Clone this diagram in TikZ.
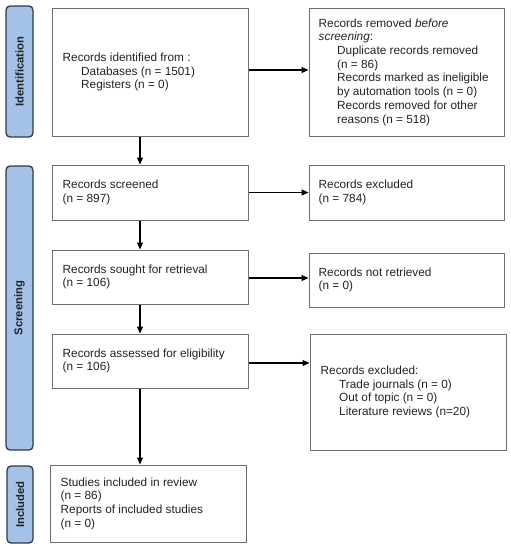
\documentclass[tikz,border=0pt]{standalone}
\usepackage{fontspec}
\setmainfont{Liberation Sans}
\usetikzlibrary{arrows.meta,calc}
\definecolor{sidefill}{HTML}{A4C2E8}
\definecolor{sideedge}{HTML}{2F3A4A}
\definecolor{boxedge}{HTML}{6E6E6E}
\definecolor{txtcol}{HTML}{222222}
\tikzset{
  box/.style={draw=boxedge, line width=1pt, rectangle, inner sep=0pt},
  txt/.style={anchor=west, align=left, inner sep=0pt, text=txtcol,
    font=\fontsize{11.8pt}{13.7pt}\selectfont},
  side/.style={draw=sideedge, fill=sidefill, line width=1.3pt, rounded corners=4pt, inner sep=0pt},
  sidetxt/.style={rotate=90, inner sep=0pt, text=txtcol, font=\fontsize{11.3pt}{13pt}\selectfont\bfseries},
  arr/.style={line width=1.1pt, -{Triangle[length=7pt,width=6pt]}},
}
\newcommand{\ind}{\hspace*{18.5pt}}
\begin{document}
\begin{tikzpicture}[x=1pt,y=1pt]
\useasboundingbox (0,0) rectangle (511,-550);
% side bars
\node[side, minimum width=27pt, minimum height=131pt] (sid) at (19.5,-71.5) {};
\node[sidetxt] (sidt) at (sid.center) {Identification};
\node[side, minimum width=27pt, minimum height=284pt] (ssc) at (19.5,-308) {};
\node[sidetxt] (ssct) at (ssc.center) {Screening};
\node[side, minimum width=26pt, minimum height=77pt] (sin) at (20,-504.5) {};
\node[sidetxt] (sint) at (sin.center) {Included};
% boxes
\node[box, minimum width=196pt, minimum height=128pt] (b1) at (150,-72) {};
\node[txt] (t1) at ([xshift=11pt]b1.west) {Records identified from :\\
\ind Databases (n = 1501)\\
\ind Registers (n = 0)};
\node[box, minimum width=195pt, minimum height=128pt] (r1) at (406.5,-72) {};
\node[txt] (tr1) at ([xshift=10pt]r1.west) {Records removed \textit{before}\\
\textit{screening}:\\
\ind Duplicate records removed\\
\ind (n = 86)\\
\ind Records marked as ineligible\\
\ind by automation tools (n = 0)\\
\ind Records removed for other\\
\ind reasons (n = 518)};
\node[box, minimum width=196pt, minimum height=55pt] (b2) at (150,-192.5) {};
\node[txt] (t2) at ([xshift=11pt]b2.west) {Records screened\\(n = 897)};
\node[box, minimum width=195pt, minimum height=55pt] (r2) at (406.5,-192.5) {};
\node[txt] (tr2) at ([xshift=10pt]r2.west) {Records excluded\\(n = 784)};
\node[box, minimum width=196pt, minimum height=54pt] (b3) at (150,-277) {};
\node[txt] (t3) at ([xshift=11pt]b3.west) {Records sought for retrieval\\(n = 106)};
\node[box, minimum width=195pt, minimum height=54pt] (r3) at (406.5,-280) {};
\node[txt] (tr3) at ([xshift=10pt]r3.west) {Records not retrieved\\(n = 0)};
\node[box, minimum width=196pt, minimum height=54pt] (b4) at (150,-361) {};
\node[txt] (t4) at ([xshift=11pt]b4.west) {Records assessed for eligibility\\(n = 106)};
\node[box, minimum width=196pt, minimum height=116pt] (r4) at (408,-392) {};
\node[txt] (tr4) at ([xshift=11pt]r4.west) {Records excluded:\\
\ind Trade journals (n = 0)\\
\ind Out of topic (n = 0)\\
\ind Literature reviews (n=20)};
\node[box, minimum width=196pt, minimum height=77pt] (b5) at (148,-503.5) {};
\node[txt] (t5) at ([xshift=11pt]b5.west) {Studies included in review\\(n = 86)\\Reports of included studies\\(n = 0)};
% arrow start points
\coordinate (ax) at (140,0);
\coordinate (e1) at ([yshift=2pt]b1.east);
\coordinate (e2) at (b2.east);
\coordinate (e3) at ([yshift=-1pt]b3.east);
\coordinate (e4) at ([yshift=-2pt]b4.east);
% arrows
\draw[arr] (ax |- b1.south) -- (ax |- b2.north);
\draw[arr] (ax |- b2.south) -- (ax |- b3.north);
\draw[arr] (ax |- b3.south) -- (ax |- b4.north);
\draw[arr] (ax |- b4.south) -- (ax |- b5.north);
\draw[arr] (e1) -- (r1.west |- e1);
\draw[arr] (e2) -- (r2.west |- e2);
\draw[arr] (e3) -- (r3.west |- e3);
\draw[arr] (e4) -- (r4.west |- e4);
\end{tikzpicture}
\end{document}
